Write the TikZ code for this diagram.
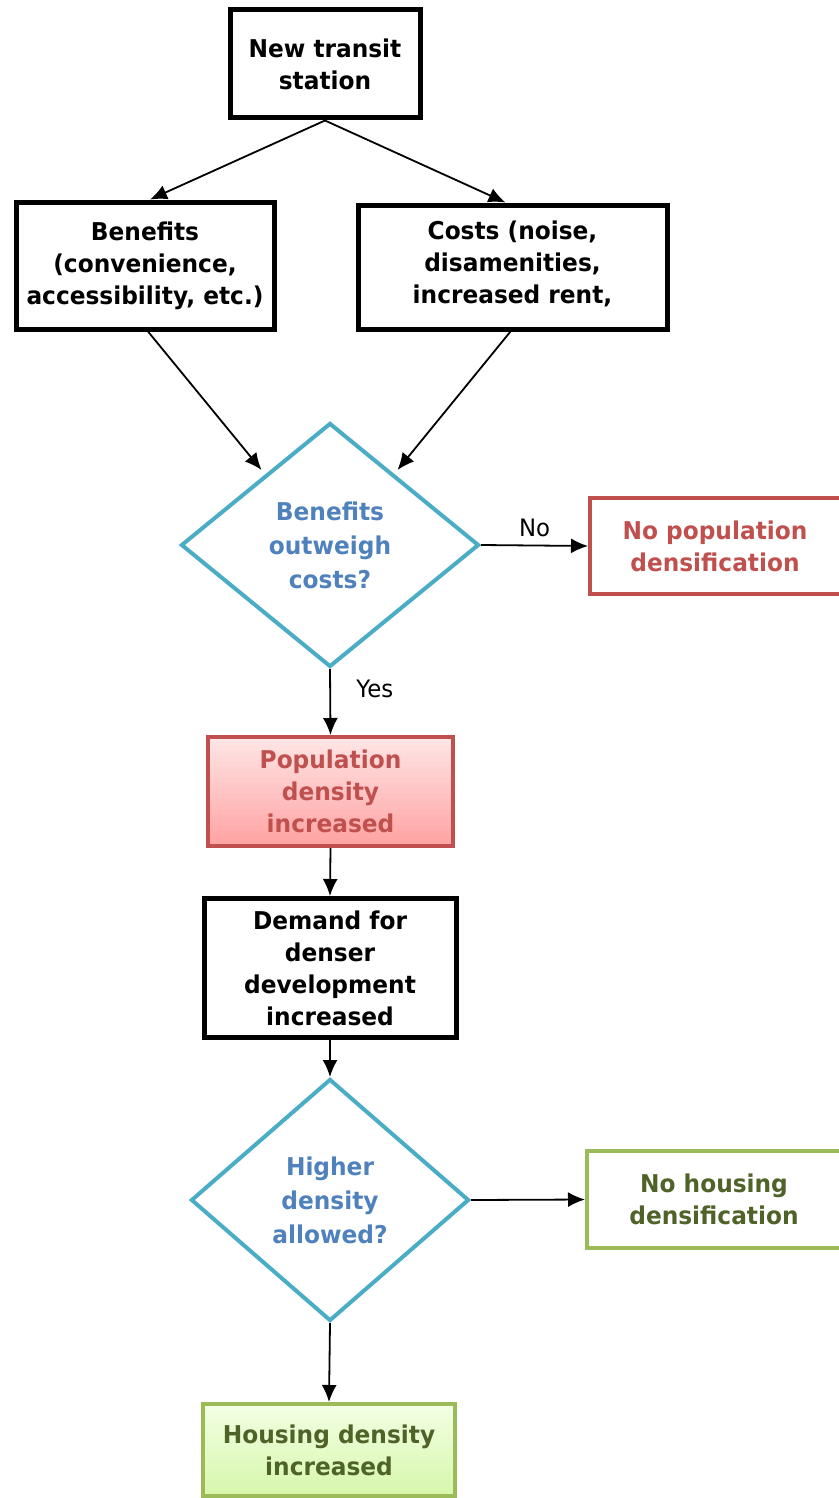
\documentclass[tikz,border=0pt]{standalone}
\usepackage{fontspec}
\setmainfont{DejaVu Sans}[FakeStretch=0.95]
\usetikzlibrary{arrows.meta,shapes.geometric,positioning}
\definecolor{decline}{HTML}{4BACC6}
\definecolor{dectext}{HTML}{4F81BD}
\definecolor{popred}{HTML}{C0504D}
\definecolor{poptop}{HTML}{FFE6E6}
\definecolor{popbot}{HTML}{FFA2A2}
\definecolor{hougreen}{HTML}{9BBB59}
\definecolor{houtext}{HTML}{4F6228}
\definecolor{houtop}{HTML}{F3FFE4}
\definecolor{houbot}{HTML}{D6F7AB}
\tikzset{
  label text/.style={align=center, inner sep=0pt,
    font=\fontsize{24.5}{32}\selectfont\bfseries},
  box/.style={label text, draw, line width=5pt},
  decision/.style={diamond, draw=decline, line width=4pt, align=center,
    inner sep=0pt, text=dectext, font=\fontsize{24.5}{34}\selectfont\bfseries},
  popbox/.style={box, line width=4pt, draw=popred, text=popred},
  houbox/.style={box, line width=4pt, draw=hougreen, text=houtext},
  flow/.style={-{Latex[length=17pt,width=15pt]}, line width=1.8pt},
  answer/.style={font=\fontsize{24}{28}\selectfont}
}
\begin{document}
\begin{tikzpicture}[x=1pt,y=-1pt]
  \useasboundingbox (0,0) rectangle (838,1498);
  \node[box, minimum width=190pt, minimum height=108pt] (station) at (325,64)
    {New transit\\station};
  \node[box, minimum width=258pt, minimum height=127pt] (benefits) at (145,265.5)
    {Benefits\\(convenience,\\accessibility, etc.)};
  \node[box, minimum width=309pt, minimum height=124pt] (costs) at (512.5,267) {};
  \node[label text] (coststext) at (512.5,264)
    {Costs (noise,\\disamenities,\\increased rent,};
  \node[decision, minimum width=298pt, minimum height=244pt] (choice1) at (330,545)
    {Benefits\\outweigh\\costs?};
  % boxes on the right run past the page edge
  \node[popbox, minimum width=270pt, minimum height=96pt] (nopop) at (725,546) {};
  \node[label text, text=popred] (noptext) at (715,546)
    {No population\\densification};
  \node[popbox, top color=poptop, bottom color=popbot,
    minimum width=245pt, minimum height=109pt] (popup) at (330.5,791.5)
    {Population\\density\\increased};
  \node[box, minimum width=252pt, minimum height=139pt] (demand) at (330,968)
    {Demand for\\denser\\development\\increased};
  \node[decision, minimum width=278pt, minimum height=242pt] (choice2) at (330,1200)
    {Higher\\density\\allowed?};
  \node[houbox, minimum width=270pt, minimum height=97pt] (nohouse) at (722,1199.5) {};
  \node[label text, text=houtext] (nohtext) at (714,1199.5)
    {No housing\\densification};
  \node[houbox, top color=houtop, bottom color=houbot,
    minimum width=252pt, minimum height=92pt] (housup) at (329,1450)
    {Housing density\\increased};
  \begin{scope}[flow]
    \draw (station.south) to ([xshift=5pt]benefits.north);
    \draw (station.south) to ([xshift=-7pt]costs.north);
    \draw ([xshift=3pt]benefits.south) to ([xshift=7pt,yshift=13pt]choice1.north west);
    \draw ([xshift=-2pt]costs.south) to ([xshift=-8pt,yshift=13pt]choice1.north east);
    \draw (choice1.east) to node[answer, above=4pt] {No} (nopop.west);
    \draw (choice1.south) to node[answer, right=22pt, pos=0.3] {Yes} (popup.north);
    \draw (popup.south) to (demand.north);
    \draw (demand.south) to (choice2.north);
    \draw (choice2.east) to (nohouse.west);
    \draw (choice2.south) to (housup.north);
  \end{scope}
\end{tikzpicture}
\end{document}
